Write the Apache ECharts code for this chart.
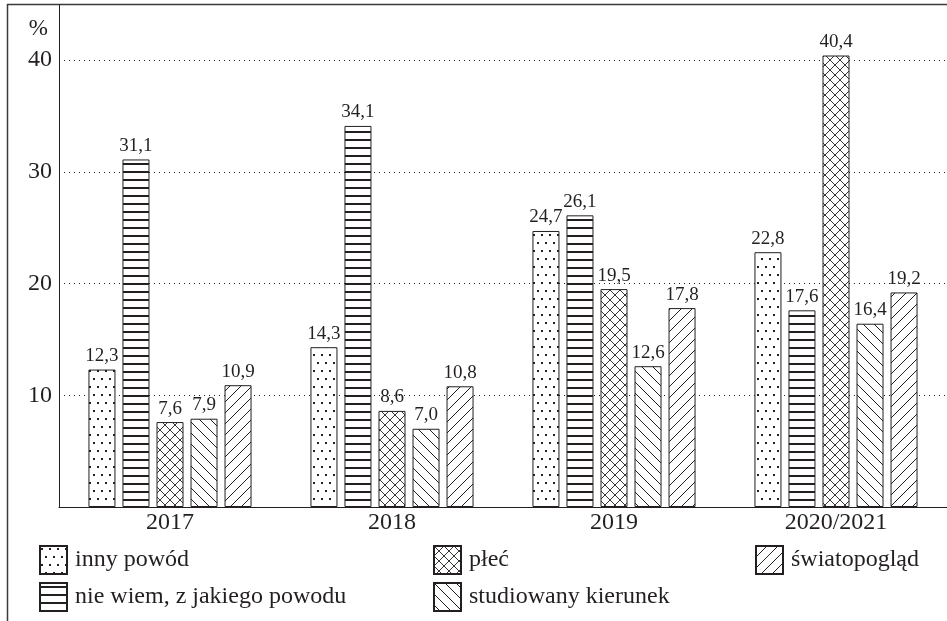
<!DOCTYPE html>
<html>
<head>
<meta charset="utf-8">
<script src="https://cdn.jsdelivr.net/npm/echarts@6/dist/echarts.min.js"></script>
<style>
  html, body { margin: 0; padding: 0; background: #fff; }
  #chart { width: 947px; height: 621px; }
</style>
</head>
<body>
<div id="chart"></div>
<script>
// data
var years = ['2017', '2018', '2019', '2020/2021'];
var innyPowod = [12.3, 14.3, 24.7, 22.8];
var nieWiem = [31.1, 34.1, 26.1, 17.6];
var plec = [7.6, 8.6, 19.5, 40.4];
var studiowany = [7.9, 7.0, 12.6, 16.4];
var swiatopoglad = [10.9, 10.8, 17.8, 19.2];
var yTicks = [10, 20, 30, 40];
var legendNames = [
  ['inny powód', 'nie wiem, z jakiego powodu'],
  ['płeć', 'studiowany kierunek'],
  ['światopogląd']
];

var INK = '#231f20';
var FONT = '"Liberation Serif", serif';

// hatch patterns drawn on small canvases
function tile(w, h, draw) {
  var c = document.createElement('canvas');
  c.width = w; c.height = h;
  var ctx = c.getContext('2d');
  ctx.fillStyle = '#fff';
  ctx.fillRect(0, 0, w, h);
  ctx.fillStyle = INK;
  ctx.strokeStyle = INK;
  draw(ctx, w, h);
  return { image: c, repeat: 'repeat' };
}

var dotsFill = tile(8, 16, function (ctx) {
  ctx.fillRect(1, 2, 2, 2);
  ctx.fillRect(5, 10, 2, 2);
});
var hlineFill = tile(8, 8, function (ctx, w) {
  ctx.fillRect(0, 3, w, 2);
});
var crossFill = tile(10, 10, function (ctx, w, h) {
  ctx.lineWidth = 0.9;
  ctx.beginPath();
  for (var k = -1; k <= 1; k++) {
    ctx.moveTo(k * w, 0); ctx.lineTo(k * w + w, h);
    ctx.moveTo(k * w, h); ctx.lineTo(k * w + w, 0);
  }
  ctx.stroke();
});
var backFill = tile(11, 11, function (ctx, w, h) {
  ctx.lineWidth = 1;
  ctx.beginPath();
  for (var k = -1; k <= 1; k++) {
    ctx.moveTo(k * w, 0); ctx.lineTo(k * w + w, h);
  }
  ctx.stroke();
});
var slashFill = tile(11, 11, function (ctx, w, h) {
  ctx.lineWidth = 1;
  ctx.beginPath();
  for (var k = -1; k <= 1; k++) {
    ctx.moveTo(k * w, h); ctx.lineTo(k * w + w, 0);
  }
  ctx.stroke();
});

function fmt(v) {
  return v.toFixed(1).replace('.', ',');
}

function makeSeries(name, data, fill) {
  return {
    name: name,
    type: 'bar',
    data: data,
    clip: false,
    barWidth: 27,
    barGap: '26%',
    itemStyle: { color: fill, borderColor: INK, borderWidth: 1 },
    label: {
      show: true,
      position: 'top',
      distance: 4,
      color: INK,
      fontFamily: FONT,
      fontSize: 19,
      formatter: function (p) { return fmt(p.value); }
    },
    emphasis: { disabled: true }
  };
}

var legendLeft = [39, 433, 755];
var legends = legendNames.map(function (names, c) {
  return {
    left: legendLeft[c],
    top: 545,
    padding: 0,
    orient: 'vertical',
    itemWidth: 27,
    itemHeight: 28,
    itemGap: 7,
    icon: 'rect',
    selectedMode: false,
    textStyle: { color: INK, fontFamily: FONT, fontSize: 24, padding: [0, 0, 0, 3] },
    data: names
  };
});

var chart = echarts.init(document.getElementById('chart'), null, { renderer: 'canvas' });

var option = {
  animation: false,
  backgroundColor: '#fff',
  textStyle: { fontFamily: FONT, color: INK },
  grid: { left: 59, right: 0, top: 60, bottom: 114 },
  xAxis: {
    type: 'category',
    data: years,
    axisLine: { lineStyle: { color: INK, width: 1 } },
    axisTick: { show: false },
    axisLabel: { color: INK, fontFamily: FONT, fontSize: 24, margin: 4 }
  },
  yAxis: {
    type: 'value',
    min: 0,
    max: 40,
    interval: 10,
    name: '%',
    nameLocation: 'end',
    nameGap: 20,
    nameTextStyle: { color: INK, fontFamily: FONT, fontSize: 23, align: 'right', padding: [0, 11, 0, 0] },
    axisLine: { show: true, lineStyle: { color: INK, width: 1 } },
    axisTick: { show: false },
    axisLabel: {
      color: INK, fontFamily: FONT, fontSize: 24, margin: 7,
      formatter: function (v) { return yTicks.indexOf(v) >= 0 ? String(v) : ''; }
    },
    splitLine: { show: true, lineStyle: { color: INK, type: [1, 4], width: 1 } }
  },
  legend: legends,
  graphic: [
    { type: 'line', silent: true, shape: { x1: 7, y1: 4.5, x2: 947, y2: 4.5 }, style: { stroke: '#3a3a3a', lineWidth: 1.5 } },
    { type: 'line', silent: true, shape: { x1: 7.5, y1: 4, x2: 7.5, y2: 621 }, style: { stroke: '#3a3a3a', lineWidth: 1.5 } },
    { type: 'line', silent: true, shape: { x1: 59.5, y1: 4, x2: 59.5, y2: 60 }, style: { stroke: INK, lineWidth: 1 } }
  ],
  series: [
    makeSeries('inny powód', innyPowod, dotsFill),
    makeSeries('nie wiem, z jakiego powodu', nieWiem, hlineFill),
    makeSeries('płeć', plec, crossFill),
    makeSeries('studiowany kierunek', studiowany, backFill),
    makeSeries('światopogląd', swiatopoglad, slashFill)
  ]
};

chart.setOption(option);
window.addEventListener('resize', chart.resize);
</script>
</body>
</html>
